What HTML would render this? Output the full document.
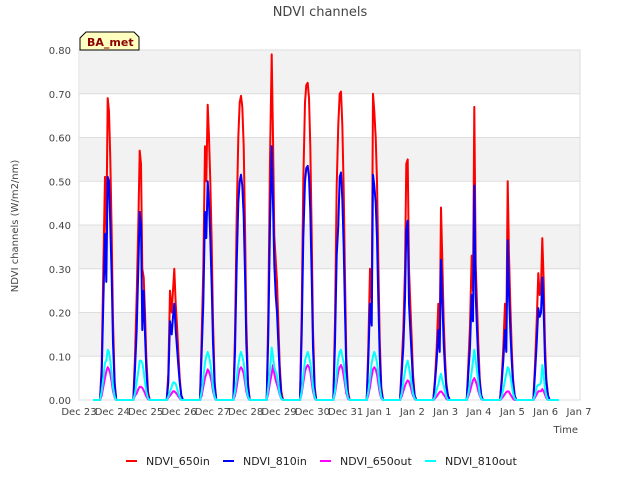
<!DOCTYPE html>
<html><head><meta charset="utf-8"><style>
body{margin:0;background:#fff;font-family:"Liberation Sans","DejaVu Sans",sans-serif;}
svg text{font-family:"DejaVu Sans","Liberation Sans",sans-serif;}
</style></head><body>
<svg id="c" width="640" height="480">
<rect x="0" y="0" width="640" height="480" fill="#fff"/>
<text x="320" y="16" text-anchor="middle" font-size="13" fill="#444">NDVI channels</text>
<g id="grid"></g>
<g id="series"></g>
<g id="axes"></g>
<text x="18" y="226" transform="rotate(-90 18 226)" text-anchor="middle" font-size="10" fill="#444">NDVI channels (W/m2/nm)</text>
<text x="578" y="433" text-anchor="end" font-size="10" fill="#444">Time</text>
<g>
<path d="M80,50 L80,38 L86,32 L134,32 L139,37 L139,50 Z" fill="#ffffc0" stroke="#000" stroke-width="1"/>
<text x="87" y="46" font-size="11" font-weight="bold" fill="#8b0000">BA_met</text>
</g>
<g id="legend"></g>
</svg>
<script>
const tOffsets=[0.63,0.68,0.73,0.78,0.82,0.86,0.90,0.94,0.98,1.02,1.07,1.12];
const xTickLabels=["Dec 23","Dec 24","Dec 25","Dec 26","Dec 27","Dec 28","Dec 29","Dec 30","Dec 31","Jan 1","Jan 2","Jan 3","Jan 4","Jan 5","Jan 6","Jan 7"];
const yTicks=[0,0.1,0.2,0.3,0.4,0.5,0.6,0.7,0.8];
const seriesNames=["NDVI_650in","NDVI_810in","NDVI_650out","NDVI_810out"];
const ndvi650in=[
[0,0.08,0.30,0.51,0.38,0.69,0.66,0.55,0.38,0.18,0.04,0],
[0,0.10,0.24,0.40,0.57,0.54,0.30,0.28,0.20,0.10,0.02,0],
[0,0.06,0.25,0.20,0.25,0.30,0.22,0.17,0.11,0.05,0.01,0],
[0,0.15,0.30,0.58,0.50,0.675,0.60,0.50,0.36,0.18,0.04,0],
[0,0.15,0.42,0.60,0.68,0.695,0.67,0.58,0.40,0.18,0.04,0],
[0,0.20,0.55,0.79,0.60,0.375,0.32,0.27,0.18,0.08,0.02,0],
[0,0.20,0.50,0.68,0.72,0.725,0.69,0.58,0.38,0.16,0.03,0],
[0,0.18,0.49,0.63,0.70,0.705,0.63,0.48,0.28,0.10,0.02,0],
[0,0.12,0.30,0.22,0.70,0.66,0.60,0.50,0.32,0.14,0.03,0],
[0,0.08,0.16,0.30,0.54,0.55,0.30,0.22,0.14,0.06,0.01,0],
[0,0.05,0.12,0.22,0.15,0.44,0.32,0.18,0.10,0.04,0.01,0],
[0,0.08,0.17,0.33,0.25,0.67,0.31,0.22,0.13,0.05,0.01,0],
[0,0.05,0.12,0.22,0.15,0.50,0.33,0.22,0.12,0.05,0.01,0],
[0,0.08,0.18,0.29,0.24,0.26,0.37,0.27,0.13,0.05,0.01,0]];
const ndvi810in=[
[0,0.06,0.22,0.38,0.27,0.51,0.50,0.40,0.28,0.13,0.03,0],
[0,0.07,0.16,0.30,0.43,0.40,0.16,0.25,0.15,0.07,0.01,0],
[0,0.04,0.18,0.15,0.19,0.22,0.16,0.12,0.08,0.04,0.01,0],
[0,0.11,0.22,0.43,0.37,0.50,0.45,0.37,0.26,0.13,0.03,0],
[0,0.11,0.31,0.45,0.50,0.515,0.49,0.42,0.29,0.13,0.03,0],
[0,0.15,0.40,0.58,0.45,0.31,0.24,0.20,0.13,0.06,0.01,0],
[0,0.15,0.37,0.50,0.53,0.535,0.51,0.43,0.28,0.12,0.02,0],
[0,0.13,0.33,0.40,0.51,0.52,0.46,0.35,0.20,0.07,0.01,0],
[0,0.09,0.22,0.17,0.515,0.49,0.45,0.37,0.23,0.10,0.02,0],
[0,0.06,0.12,0.23,0.39,0.41,0.22,0.16,0.10,0.04,0.01,0],
[0,0.04,0.09,0.16,0.11,0.32,0.23,0.13,0.07,0.03,0.01,0],
[0,0.06,0.12,0.24,0.18,0.49,0.24,0.16,0.09,0.04,0.01,0],
[0,0.04,0.09,0.16,0.11,0.365,0.24,0.16,0.09,0.04,0.01,0],
[0,0.06,0.13,0.21,0.19,0.20,0.28,0.20,0.09,0.04,0.01,0]];
const ndvi650out=[
[0,0.01,0.03,0.05,0.065,0.075,0.07,0.06,0.04,0.02,0.005,0],
[0,0.01,0.015,0.025,0.03,0.03,0.028,0.022,0.015,0.008,0.002,0],
[0,0.005,0.01,0.015,0.02,0.02,0.017,0.013,0.008,0.004,0,0],
[0,0.01,0.03,0.05,0.06,0.07,0.065,0.055,0.04,0.02,0.005,0],
[0,0.01,0.03,0.055,0.07,0.075,0.07,0.06,0.04,0.02,0.005,0],
[0,0.015,0.04,0.06,0.08,0.06,0.045,0.035,0.025,0.012,0.003,0],
[0,0.015,0.04,0.065,0.075,0.08,0.075,0.065,0.04,0.02,0.004,0],
[0,0.015,0.04,0.065,0.075,0.08,0.072,0.055,0.035,0.015,0.003,0],
[0,0.01,0.03,0.055,0.07,0.075,0.07,0.058,0.038,0.017,0.004,0],
[0,0.008,0.02,0.033,0.04,0.045,0.042,0.033,0.02,0.01,0.002,0],
[0,0.004,0.008,0.014,0.018,0.02,0.017,0.012,0.008,0.003,0,0],
[0,0.008,0.02,0.035,0.045,0.05,0.043,0.033,0.02,0.01,0.002,0],
[0,0.004,0.008,0.014,0.018,0.02,0.019,0.013,0.008,0.003,0,0],
[0,0.006,0.013,0.02,0.02,0.02,0.025,0.02,0.012,0.005,0,0]];
const ndvi810out=[
[0,0.02,0.05,0.085,0.09,0.115,0.11,0.09,0.06,0.03,0.007,0],
[0,0.015,0.04,0.065,0.09,0.09,0.085,0.065,0.04,0.02,0.004,0],
[0,0.008,0.02,0.03,0.04,0.04,0.037,0.027,0.015,0.007,0,0],
[0,0.02,0.05,0.085,0.10,0.11,0.10,0.085,0.06,0.03,0.007,0],
[0,0.02,0.05,0.08,0.10,0.11,0.10,0.085,0.06,0.03,0.007,0],
[0,0.03,0.07,0.12,0.10,0.075,0.065,0.055,0.035,0.015,0.003,0],
[0,0.02,0.055,0.09,0.10,0.11,0.10,0.085,0.06,0.03,0.006,0],
[0,0.02,0.06,0.095,0.11,0.115,0.10,0.085,0.055,0.025,0.005,0],
[0,0.02,0.05,0.085,0.10,0.11,0.10,0.085,0.06,0.03,0.006,0],
[0,0.015,0.04,0.065,0.08,0.09,0.075,0.055,0.035,0.015,0.003,0],
[0,0.008,0.025,0.035,0.05,0.06,0.045,0.033,0.02,0.008,0,0],
[0,0.015,0.04,0.065,0.09,0.115,0.09,0.065,0.04,0.015,0.003,0],
[0,0.008,0.025,0.045,0.06,0.075,0.07,0.055,0.035,0.015,0.003,0],
[0,0.012,0.03,0.035,0.035,0.04,0.08,0.055,0.025,0.01,0,0]];
const seriesColors=["#ff0000","#0000ff","#ff00ff","#00ffff"];
const NS="http://www.w3.org/2000/svg";
const X0=79,X1=579,Y0=400,Y1=50;
function xs(d){return X0+(X1-X0)*d/15;}
function ys(v){return Y0-(Y0-Y1)*v/0.8;}
function mk(tag,attrs,parent){const e=document.createElementNS(NS,tag);for(const k in attrs)e.setAttribute(k,attrs[k]);parent.appendChild(e);return e;}
const grid=document.getElementById('grid'),axes=document.getElementById('axes');
for(let i=0;i<yTicks.length-1;i++){
  if(i%2===1){const r=mk('rect',{x:X0+1,y:ys(yTicks[i+1]),width:X1-X0,height:ys(yTicks[i])-ys(yTicks[i+1]),fill:'#f2f2f2'},grid);
  
  }
}
mk('rect',{x:X0,y:Y1,width:X1-X0+1,height:Y0-Y1,fill:'none',stroke:'#ddd'},grid);
yTicks.forEach(v=>{
  const l=mk('line',{x1:X0,x2:X1+1,y1:ys(v),y2:ys(v),stroke:'#ddd'},grid);
  
  
  const t=mk('text',{x:X0-8,y:ys(v)+4,'text-anchor':'end','font-size':10,fill:'#444'},axes);
  t.textContent=v.toFixed(2);
  
  
});
xTickLabels.forEach((s,i)=>{
  const t=mk('text',{x:xs(i),y:415,'text-anchor':'middle','font-size':10,fill:'#444'},axes);
  t.textContent=s;
  
  
});
const sg=document.getElementById('series');
[ndvi650in,ndvi810in,ndvi650out,ndvi810out].forEach((data,si)=>{
  let pts=[[xs(0.42),ys(0)]];
  data.forEach((day,d)=>{day.forEach((v,k)=>pts.push([xs(d+tOffsets[k]),ys(v)]));});
  pts.push([xs(14.4),ys(0)]);
  const p=mk('polyline',{points:pts.map(p=>p[0].toFixed(1)+','+p[1].toFixed(1)).join(' '),fill:'none',stroke:seriesColors[si],'stroke-width':2,'stroke-linejoin':'round'},sg);
  
  
});
const lg=document.getElementById('legend');
const lx=[126,223,320,425];
seriesNames.forEach((n,i)=>{
  const g=mk('g',{},lg);
  
  
  mk('line',{x1:lx[i],x2:lx[i]+11,y1:461,y2:461,stroke:seriesColors[i],'stroke-width':2},g);
  const t=mk('text',{x:lx[i]+20,y:465,'font-size':11,fill:'#222'},g);
  t.textContent=n;
});
</script>
</body></html>
